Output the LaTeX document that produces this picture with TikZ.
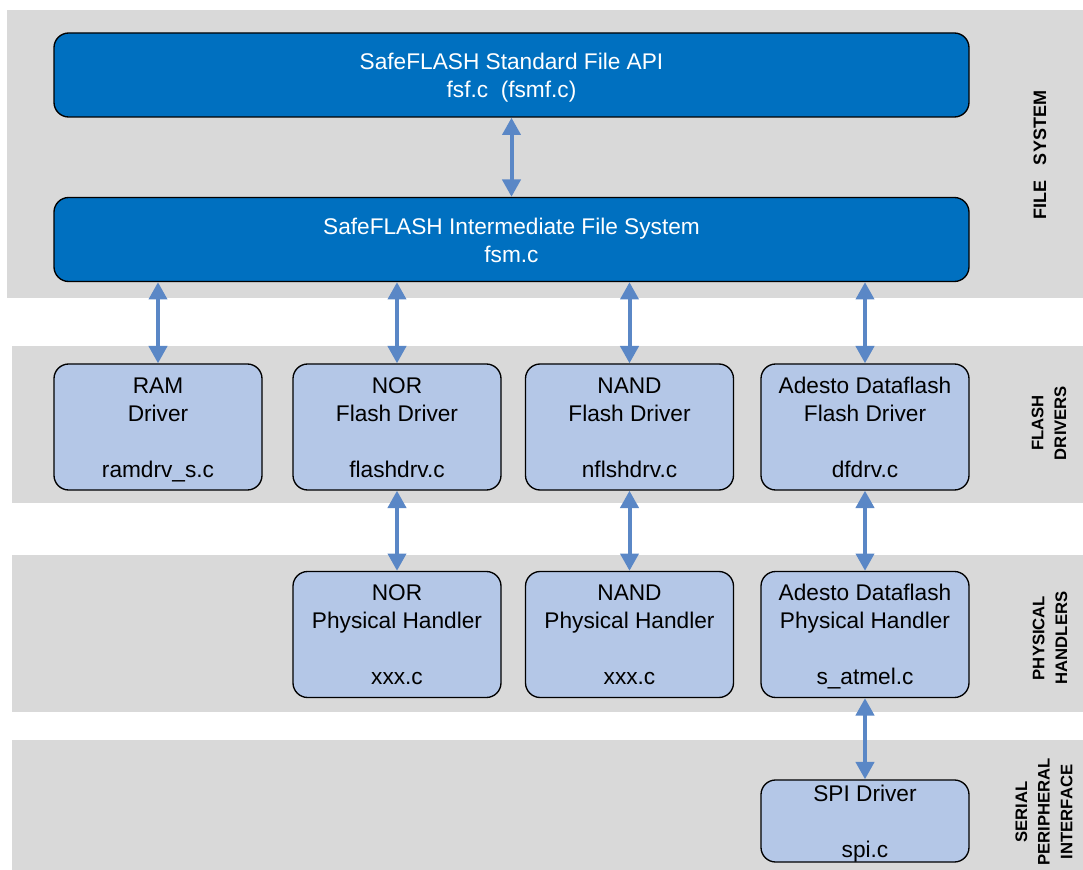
\documentclass[tikz,border=0pt]{standalone}
\usepackage{fontspec}
\setmainfont{Liberation Sans}
\usetikzlibrary{arrows.meta}
\definecolor{bandgray}{HTML}{D9D9D9}
\definecolor{darkblue}{HTML}{0070C0}
\definecolor{lightblue}{HTML}{B4C7E7}
\definecolor{arrowblue}{HTML}{5A87C6}
\newcommand{\hstrut}[1]{\rule{0pt}{#1}}
\newcommand{\dstrut}[1]{\rule[-#1]{0pt}{0pt}}
\tikzset{
  band/.style={fill=bandgray, draw=none},
  bigbox/.style={draw=black, line width=1pt, fill=darkblue, text=white, rounded corners=11pt,
    minimum width=686.25pt, minimum height=63pt, align=center, inner sep=0pt,
    font=\fontsize{17}{21}\selectfont},
  smallbox/.style={draw=black, line width=1pt, fill=lightblue, text=black, rounded corners=11pt,
    minimum width=156pt, minimum height=94.5pt, align=center, inner sep=0pt,
    font=\fontsize{17}{21}\selectfont},
  spibox/.style={smallbox, minimum height=61.5pt},
  conn/.style={draw=arrowblue, line width=3pt,
    {Triangle[width=13.5pt,length=13pt]}-{Triangle[width=13.5pt,length=13pt]}},
  sidelabel/.style={rotate=90, align=center, inner sep=0pt,
    font=\fontsize{12.5}{17}\selectfont\bfseries}
}
\begin{document}
\begin{tikzpicture}[x=0.75pt,y=-0.75pt]
\useasboundingbox (0,0) rectangle (1083,870);
% bands
\fill[band] (7,10) rectangle (1083,298);
\fill[band] (12,346) rectangle (1083,503);
\fill[band] (12,555) rectangle (1083,712);
\fill[band] (12,740) rectangle (1083,870);
% boxes
\node[bigbox] (api) at (511.5,75) {\hstrut{16pt}SafeFLASH Standard File API\\fsf.c\ \ (fsmf.c)\dstrut{2.5pt}};
\node[bigbox] (fsm) at (511.5,239.5) {\hstrut{16pt}SafeFLASH Intermediate File System\\fsm.c\dstrut{2.5pt}};
\node[smallbox] (ram) at (158,427) {\hstrut{16pt}RAM\\Driver\\ \\ramdrv\_s.c\dstrut{4pt}};
\node[smallbox] (nor) at (397,427) {\hstrut{16pt}NOR\\Flash Driver\\ \\flashdrv.c\dstrut{4pt}};
\node[smallbox] (nand) at (629.5,427) {\hstrut{16pt}NAND\\Flash Driver\\ \\nflshdrv.c\dstrut{4pt}};
\node[smallbox] (ades) at (865,427) {\hstrut{16pt}Adesto Dataflash\\Flash Driver\\ \\dfdrv.c\dstrut{4pt}};
\node[smallbox] (norph) at (397,634.5) {\hstrut{16pt}NOR\\Physical Handler\\ \\xxx.c\dstrut{4pt}};
\node[smallbox] (nandph) at (629.5,634.5) {\hstrut{16pt}NAND\\Physical Handler\\ \\xxx.c\dstrut{4pt}};
\node[smallbox] (adesph) at (865,634.5) {\hstrut{16pt}Adesto Dataflash\\Physical Handler\\ \\s\_atmel.c\dstrut{4pt}};
\node[spibox] (spi) at (865,821) {\hstrut{16pt}SPI Driver\\ \\spi.c\dstrut{2.5pt}};
% connectors
\draw[conn] (api.south) -- (fsm.north);
\draw[conn] (ram.north |- fsm.south) -- (ram.north);
\draw[conn] (nor.north |- fsm.south) -- (nor.north);
\draw[conn] (nand.north |- fsm.south) -- (nand.north);
\draw[conn] (ades.north |- fsm.south) -- (ades.north);
\draw[conn] (nor.south) -- (norph.north);
\draw[conn] (nand.south) -- (nandph.north);
\draw[conn] (ades.south) -- (adesph.north);
\draw[conn] (adesph.south) -- (spi.north);
% side labels
\node[sidelabel, font=\fontsize{13.5}{17}\selectfont\bfseries] (lfs) at (1040,155) {FILE\ \ \ SYSTEM};
\node[sidelabel] (lfd) at (1049,423) {FLASH\\DRIVERS};
\node[sidelabel] (lph) at (1050,638) {PHYSICAL\\HANDLERS};
\node[sidelabel] (lsp) at (1044,812) {SERIAL\\PERIPHERAL\\INTERFACE};
\end{tikzpicture}
\end{document}
